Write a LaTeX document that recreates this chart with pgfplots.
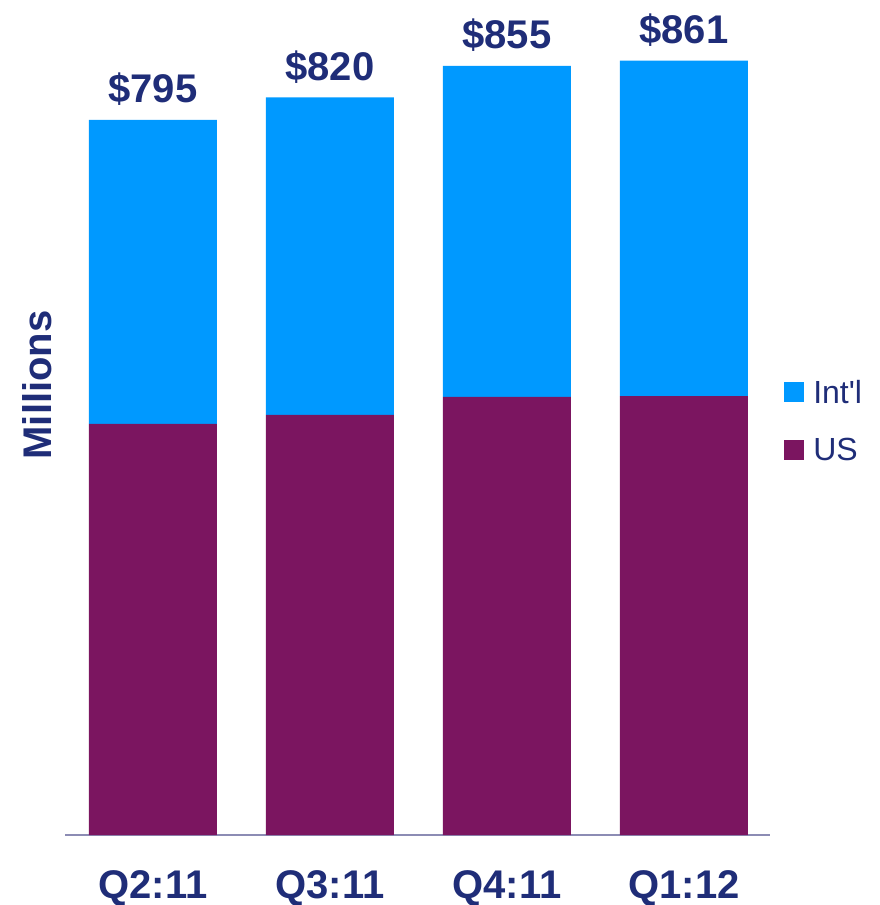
\documentclass[border=0pt]{standalone}
\usepackage{pgfplots}
\usepackage{pgfplotstable}
\pgfplotsset{compat=1.18}
\usepackage{fontspec}
\setmainfont{Liberation Sans}
\definecolor{intl}{HTML}{0099FF}
\definecolor{us}{HTML}{7B1560}
\definecolor{navy}{HTML}{1F2D78}
\definecolor{axisc}{HTML}{8C8CB4}
\pgfplotstableread{
x us intl total
0 457 338 795
1 467 353 820
2 487 368 855
3 488 373 861
}\datatable
\pgfplotsset{base/.style={
  at={(65bp,70bp)}, anchor=south west,
  scale only axis, width=705bp, height=809.5bp,
  xmin=-0.497, xmax=3.486, ymin=0, ymax=900,
  clip=false}}
\begin{document}
\begin{tikzpicture}
\path[use as bounding box] (0,0) rectangle (880bp,905bp);
\begin{axis}[
  base,
  ybar stacked, bar width=128bp,
  axis y line=none, axis x line*=bottom,
  x axis line style={color=axisc, line width=1.5bp, -},
  xtick=data, xticklabels={Q2:11,Q3:11,Q4:11,Q1:12},
  xtick style={draw=none},
  xticklabel style={font=\fontsize{40bp}{44bp}\selectfont\bfseries, text=navy, anchor=base, inner sep=0pt, yshift=-63bp},
  reverse legend,
  legend style={at={(axis description cs:1.02,0.565)}, anchor=north west, draw=none, fill=none, inner sep=0pt,
    font=\fontsize{32bp}{36bp}\selectfont, text=navy, row sep=30bp},
  legend cell align=left,
  legend image code/.code={\fill[#1] (0bp,-10bp) rectangle (20bp,10bp); \path (27bp,0bp);},
]
\addplot[fill=us, draw=none] table[x=x, y=us] {\datatable};
\addlegendentry{US}
\addplot[fill=intl, draw=none] table[x=x, y=intl] {\datatable};
\addlegendentry{Int\textquotesingle l}
\node[rotate=90, anchor=center, font=\fontsize{40bp}{44bp}\selectfont\bfseries, text=navy]
  at (axis description cs:-0.04,0.556) {Millions};
\end{axis}
\begin{axis}[
  base, hide axis,
  /pgf/number format/assume math mode=true,
]
\addplot[draw=none, mark=none,
  point meta=explicit,
  nodes near coords={\$\pgfmathprintnumber{\pgfplotspointmeta}},
  nodes near coords style={font=\fontsize{40bp}{44bp}\selectfont\bfseries, text=navy, anchor=base, inner sep=0pt, yshift=17bp},
] table[x=x, y=total, meta=total] {\datatable};
\end{axis}
\end{tikzpicture}
\end{document}
